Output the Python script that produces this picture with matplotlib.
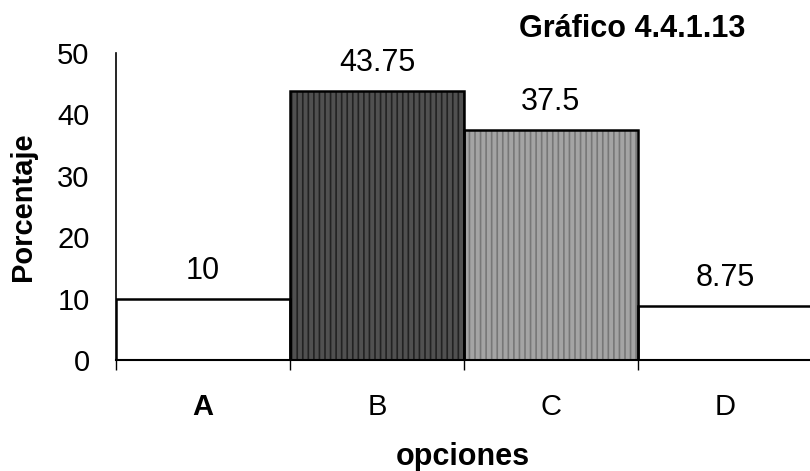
import matplotlib
matplotlib.use("Agg")
import matplotlib.pyplot as plt
import numpy as np

# data
categories = ["A", "B", "C", "D"]
values = [10, 43.75, 37.5, 8.75]
value_labels = ["10", "43.75", "37.5", "8.75"]
y_ticks = [0, 10, 20, 30, 40, 50]

face_colors = ["white", "#505050", "#a4a4a4", "white"]
hatch_colors = [None, "#222222", "#777777", None]

plt.rcParams['font.family'] = ['Liberation Sans', 'DejaVu Sans']
plt.rcParams['hatch.linewidth'] = 1.2

fig = plt.figure(figsize=(8.1, 4.71), dpi=100)
ax = fig.add_axes([116 / 810, 111 / 471, 1 - 116 / 810, (360 - 53) / 471])

x = np.arange(len(categories))
for xi, v, fc, hc in zip(x, values, face_colors, hatch_colors):
    if hc is None:
        ax.bar(xi, v, width=1.0, color=fc, linewidth=0)
    else:
        ax.bar(xi, v, width=1.0, facecolor=fc, edgecolor=hc, hatch='|||', linewidth=0)
ax.bar(x, values, width=1.0, facecolor='none', edgecolor='black', linewidth=1.8)

for xi, v, lab in zip(x, values, value_labels):
    ax.annotate(lab, (xi, v), xytext=(0, 28 * 0.72), textcoords='offset points',
                ha='center', va='center', fontsize=22)

# D bar runs off the right edge of the picture
ax.set_xlim(-0.5, 3.49)
ax.set_ylim(0, 50)
ax.set_yticks(y_ticks)
ax.tick_params(axis='y', length=0, pad=19, labelsize=21)

ax.set_xticks(x - 0.5)
ax.set_xticklabels([])
ax.set_xticks(x, minor=True)
ax.set_xticklabels(categories, minor=True)
ax.tick_params(axis='x', which='major', length=7, width=1, direction='out')
ax.tick_params(axis='x', which='minor', length=0, pad=24, labelsize=21)
ax.get_xticklabels(minor=True)[0].set_fontweight('bold')

for side in ['top', 'right']:
    ax.spines[side].set_visible(False)
ax.spines['left'].set_linewidth(1.2)
ax.spines['bottom'].set_linewidth(1.5)

fig.text(463 / 810, 1 - 457 / 471, "opciones", ha='center', va='center',
         fontsize=22, fontweight='bold')
fig.text(23 / 810, 1 - 207 / 471, "Porcentaje", ha='center', va='center',
         rotation=90, fontsize=21, fontweight='bold')
fig.text(632 / 810, 1 - 29 / 471, "Gráfico 4.4.1.13", ha='center', va='center',
         fontsize=22, fontweight='bold')

fig.savefig("out.png", dpi=100)
plt.close(fig)
